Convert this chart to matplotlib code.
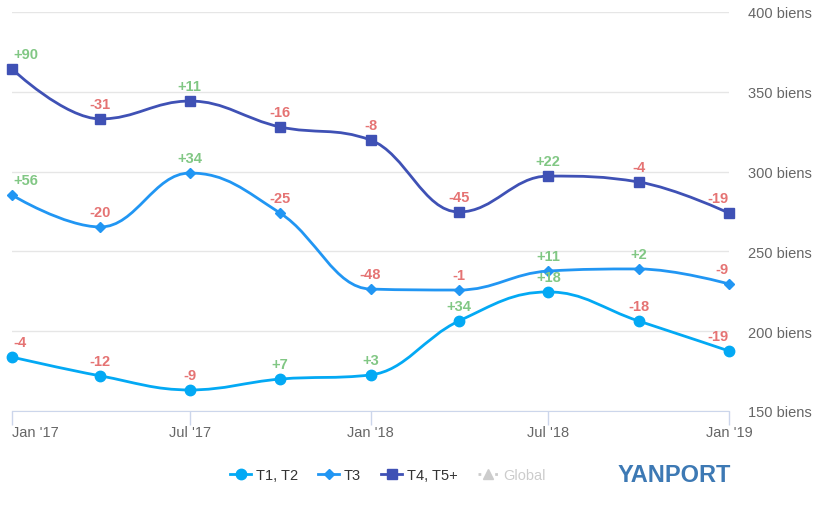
import matplotlib
matplotlib.use("Agg")
import matplotlib.pyplot as plt
import matplotlib.dates as mdates
from matplotlib.path import Path
from matplotlib.patches import PathPatch
from matplotlib.lines import Line2D
import pandas as pd

plt.rcParams['font.family'] = ['Liberation Sans', 'DejaVu Sans']

# quarterly stock of listings
dates = pd.date_range("2017-01-01", periods=9, freq="QS")
t12 = [183.8, 172.0, 163.2, 170.0, 172.6, 206.4, 224.6, 206.4, 187.6]
t3 = [285.3, 265.3, 299.1, 274.0, 226.4, 225.8, 237.7, 239.0, 229.6]
t45 = [364.3, 333.0, 344.2, 328.0, 319.8, 274.7, 297.2, 293.5, 274.0]

# change labels shown above the points
t12_lbl = ["-4", "-12", "-9", "+7", "+3", "+34", "+18", "-18", "-19"]
t3_lbl = ["+56", "-20", "+34", "-25", "-48", "-1", "+11", "+2", "-9"]
t45_lbl = ["+90", "-31", "+11", "-16", "-8", "-45", "+22", "-4", "-19"]

series = [
    ("T1, T2", t12, t12_lbl, "#03a9f4", "o", 7.5),
    ("T3", t3, t3_lbl, "#2196f3", "D", 5.5),
    ("T4, T5+", t45, t45_lbl, "#3f51b5", "s", 7.5),
]

GREEN = "#81c784"
RED = "#e57373"


def spline_path(xs, ys):
    # highcharts-like spline (smoothing 1.5)
    n = len(xs)
    lc = [None] * n
    rc = [None] * n
    for i in range(1, n - 1):
        px, py = xs[i], ys[i]
        lx, ly = xs[i - 1], ys[i - 1]
        nx, ny = xs[i + 1], ys[i + 1]
        lcx = (1.5 * px + lx) / 2.5
        lcy = (1.5 * py + ly) / 2.5
        rcx = (1.5 * px + nx) / 2.5
        rcy = (1.5 * py + ny) / 2.5
        if rcx != lcx:
            corr = (rcy - lcy) * (rcx - px) / (rcx - lcx) + py - rcy
            lcy += corr
            rcy += corr
        if lcy > ly and lcy > py:
            lcy = max(ly, py)
            rcy = 2 * py - lcy
        elif lcy < ly and lcy < py:
            lcy = min(ly, py)
            rcy = 2 * py - lcy
        if rcy > ny and rcy > py:
            rcy = max(ny, py)
            lcy = 2 * py - rcy
        elif rcy < ny and rcy < py:
            rcy = min(ny, py)
            lcy = 2 * py - rcy
        lc[i] = (lcx, lcy)
        rc[i] = (rcx, rcy)
    verts = [(xs[0], ys[0])]
    codes = [Path.MOVETO]
    for i in range(1, n):
        c1 = rc[i - 1] if rc[i - 1] else (xs[i - 1], ys[i - 1])
        c2 = lc[i] if lc[i] else (xs[i], ys[i])
        verts += [c1, c2, (xs[i], ys[i])]
        codes += [Path.CURVE4] * 3
    return Path(verts, codes)


fig = plt.figure(figsize=(8.28, 5.06), dpi=100)
ax = fig.add_axes([12 / 828, 1 - 412 / 506, 717 / 828, 399 / 506])

x = list(mdates.date2num(dates))
for name, vals, lbls, col, mk, ms in series:
    ax.add_patch(PathPatch(spline_path(x, vals), facecolor="none", edgecolor=col,
                           lw=2.0, zorder=3, clip_on=False))
    ax.plot(x, vals, ls="none", marker=mk, ms=ms, color=col, mec=col, zorder=4, clip_on=False)
    for i, (xi, v, t) in enumerate(zip(x, vals, lbls)):
        ha, dx = "center", 0
        if i == 0:
            ha, dx = "left", 1
        elif i == len(x) - 1:
            ha, dx = "right", -1
        ax.annotate(t, (xi, v), xytext=(dx, 15), textcoords="offset pixels", ha=ha,
                    va="center", fontsize=10.5, fontweight="bold",
                    color=GREEN if t.startswith("+") else RED, zorder=5)

ax.set_xlim(mdates.date2num(pd.Timestamp("2017-01-01")), mdates.date2num(pd.Timestamp("2019-01-01")))
ax.set_ylim(150, 400)

ax.set_yticks([150, 200, 250, 300, 350, 400])
ax.yaxis.tick_right()
ax.set_yticklabels([f"{v} biens" for v in [150, 200, 250, 300, 350, 400]])
ax.tick_params(axis="y", length=0, pad=14, labelsize=10.5, labelcolor="#666666")
ax.grid(axis="y", color="#e6e6e6", lw=1)
ax.set_axisbelow(True)

xt = pd.to_datetime(["2017-01-01", "2017-07-01", "2018-01-01", "2018-07-01", "2019-01-01"])
ax.set_xticks(mdates.date2num(xt))
ax.set_xticklabels(["Jan '17", "Jul '17", "Jan '18", "Jul '18", "Jan '19"])
ax.tick_params(axis="x", length=10, color="#ccd6eb", width=1, pad=0,
               labelsize=10.5, labelcolor="#666666")
ax.get_xticklabels()[0].set_ha("left")

for s in ["top", "left", "right"]:
    ax.spines[s].set_visible(False)
ax.spines["bottom"].set_color("#ccd6eb")

handles = [Line2D([], [], color=c, marker=m, ms=ms, lw=2) for _, _, _, c, m, ms in series]
handles.append(Line2D([], [], color="#cccccc", marker="^", ms=7, lw=2, ls=(0, (1, 2))))
leg = fig.legend(handles, ["T1, T2", "T3", "T4, T5+", "Global"], ncol=4, frameon=False,
                 loc="center", bbox_to_anchor=(388 / 828, 1 - 476 / 506),
                 fontsize=10.5, handlelength=1.45, handletextpad=0.3, columnspacing=1.4)
for i, t in enumerate(leg.get_texts()):
    t.set_color("#cccccc" if i == 3 else "#333333")

fig.text(674 / 828, 1 - 476 / 506, "YANPORT", ha="center", va="center", fontsize=17,
         fontweight="bold", color="#3d79b4")

fig.savefig("out.png", dpi=100)
